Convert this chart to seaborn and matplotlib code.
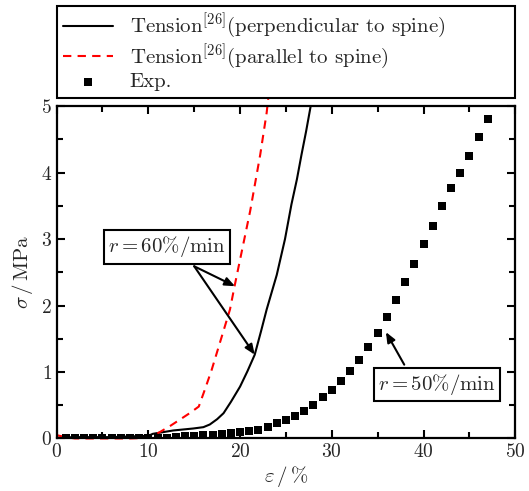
import numpy as np
import pandas as pd
import seaborn as sns
import matplotlib.pyplot as plt

# tension curve, perpendicular to spine
eps_perp = [0, 2, 4, 6, 8, 10, 10.5, 12.7, 14.9, 16.0, 16.7, 17.5, 18.2, 19.0, 20.0,
            20.8, 21.6, 22.3, 22.9, 24.0, 24.9, 25.6, 26.2, 26.7, 27.2, 27.7]
sig_perp = [0.01, 0.02, 0.02, 0.02, 0.03, 0.04, 0.07, 0.12, 0.15, 0.17, 0.21, 0.29, 0.38,
            0.55, 0.78, 1.01, 1.26, 1.62, 1.94, 2.46, 3.0, 3.52, 3.9, 4.27, 4.62, 5.0]

# tension curve, parallel to spine
eps_par = [0, 1, 2, 4, 6, 8, 10, 10.5, 11.3, 12.4, 13.4, 14.5, 15.5, 16.2, 16.9, 18.0,
           18.9, 19.4, 20.0, 21.1, 22.2, 22.9, 23.1]
sig_par = [0.05, 0.02, 0.0, 0.0, 0.0, 0.0, 0.01, 0.04, 0.10, 0.19, 0.28, 0.38, 0.48, 0.75,
           1.03, 1.53, 1.94, 2.29, 2.69, 3.42, 4.27, 4.90, 5.15]

# experiment
eps_exp = list(range(1, 48))
sig_exp = [0.01, 0.01, 0.01, 0.01, 0.01, 0.01, 0.01, 0.01, 0.01, 0.01,
           0.01, 0.01, 0.016, 0.036, 0.04, 0.05, 0.05, 0.06, 0.075, 0.09,
           0.116, 0.13, 0.176, 0.226, 0.28, 0.34, 0.42, 0.51, 0.62, 0.73,
           0.87, 1.01, 1.18, 1.38, 1.59, 1.82, 2.08, 2.35, 2.63, 2.92,
           3.20, 3.49, 3.76, 3.99, 4.25, 4.53, 4.81]

sns.set_style("ticks")
plt.rcParams['font.family'] = ['cmr10']
plt.rcParams['mathtext.fontset'] = 'cm'
plt.rcParams['axes.formatter.use_mathtext'] = True
plt.rcParams['axes.unicode_minus'] = False
plt.rcParams['xtick.top'] = True
plt.rcParams['ytick.right'] = True
plt.rcParams['xtick.direction'] = 'in'
plt.rcParams['ytick.direction'] = 'in'
plt.rcParams['xtick.minor.visible'] = True
plt.rcParams['ytick.minor.visible'] = True

fig = plt.figure(figsize=(5.29, 4.91), dpi=100)
ax = fig.add_axes([0.107, 0.107, 0.867, 0.677])

df_perp = pd.DataFrame({"eps": eps_perp, "sig": sig_perp})
df_par = pd.DataFrame({"eps": eps_par, "sig": sig_par})
df_exp = pd.DataFrame({"eps": eps_exp, "sig": sig_exp})

sns.lineplot(data=df_perp, x="eps", y="sig", sort=False, estimator=None, color="black",
             lw=1.5, ax=ax, label=r"Tension$^{[26]}$(perpendicular to spine)")
sns.lineplot(data=df_par, x="eps", y="sig", sort=False, estimator=None, color="red",
             lw=1.5, ax=ax, label=r"Tension$^{[26]}$(parallel to spine)", clip_on=False)
ax.lines[-1].set_dashes([4, 3])
sns.scatterplot(data=df_exp, x="eps", y="sig", marker="s", color="black", s=30,
                linewidth=0, ax=ax, label="Exp.", zorder=3)

ax.set_xlim(0, 50)
ax.set_ylim(0, 5)
ax.set_xticks(range(0, 51, 10))
ax.set_xticks(range(5, 50, 10), minor=True)
ax.set_yticks(range(0, 6))
ax.set_yticks(np.arange(0.5, 5, 1.0), minor=True)
ax.tick_params(which="both", direction="in", top=True, right=True, bottom=True,
               left=True, width=1.5, color="black", labelsize=14)
ax.tick_params(which="major", length=6)
ax.tick_params(which="minor", length=4)
for s in ax.spines.values():
    s.set_linewidth(1.6)
    s.set_color("black")
ax.set_xlabel(r"$\varepsilon\,/\,\%$", fontsize=15, labelpad=2)
ax.set_ylabel(r"$\sigma\,/\,\mathrm{MPa}$", fontsize=15, labelpad=4)

# annotations
ax.text(12.0, 2.88, r"$r=60\%/\mathrm{min}$", fontsize=15, ha="center", va="center",
        bbox=dict(boxstyle="square,pad=0.2", fc="white", ec="black", lw=1.5))
arr = dict(arrowstyle="-|>,head_length=0.6,head_width=0.25", color="black", lw=1.5,
           shrinkA=0, shrinkB=0)
ax.annotate("", xy=(19.45, 2.29), xytext=(15.0, 2.59), arrowprops=arr)
ax.annotate("", xy=(21.6, 1.26), xytext=(15.0, 2.59), arrowprops=arr)
ax.text(41.5, 0.81, r"$r=50\%/\mathrm{min}$", fontsize=15, ha="center", va="center",
        bbox=dict(boxstyle="square,pad=0.2", fc="white", ec="black", lw=1.5))
ax.annotate("", xy=(35.9, 1.6), xytext=(37.9, 1.11), arrowprops=arr)

handles, labels = ax.get_legend_handles_labels()
ax.get_legend().remove()
leg = fig.legend(handles, labels, loc="upper left", mode="expand",
                 bbox_to_anchor=(0.107, 0.8, 0.867, 0.188), borderaxespad=0,
                 fontsize=15, frameon=True, fancybox=False, edgecolor="black",
                 framealpha=1, handlelength=2.4, labelspacing=0.05,
                 scatterpoints=1, borderpad=0.3)
leg.get_frame().set_linewidth(1.5)

fig.savefig("out.png", dpi=100)
